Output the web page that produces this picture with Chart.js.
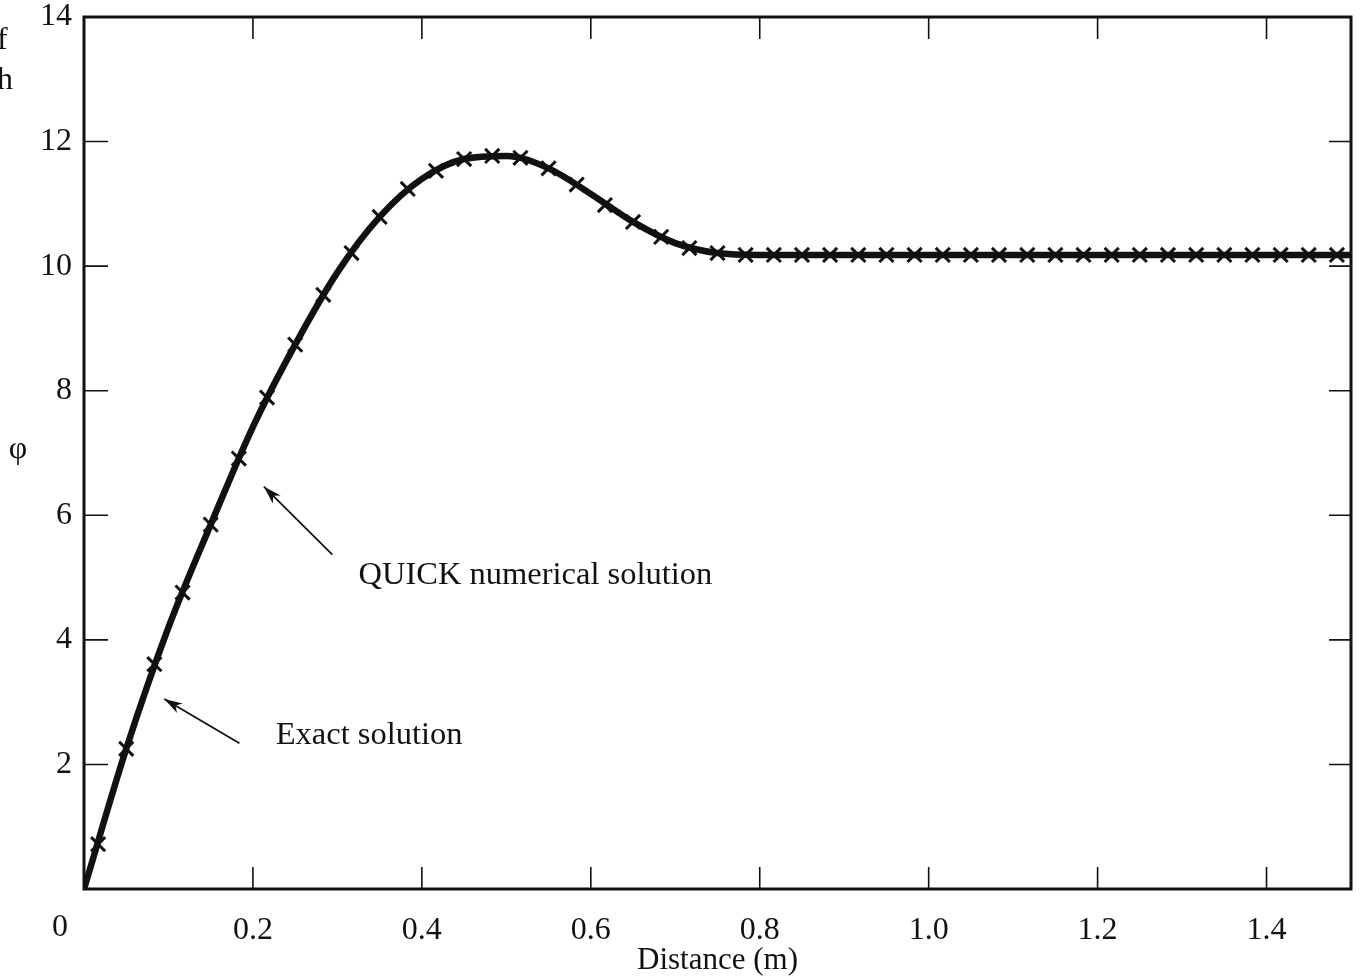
<!DOCTYPE html>
<html>
<head>
<meta charset="utf-8">
<script src="https://cdn.jsdelivr.net/npm/chart.js@4.4.1/dist/chart.umd.min.js"></script>
<style>
  html, body { margin: 0; padding: 0; background: #fff; }
  #wrap { position: relative; width: 1364px; height: 980px; overflow: hidden; }
  .frag { position: absolute; left: -3px; font-family: "Liberation Serif", serif; font-size: 32px; color: #111; }
</style>
</head>
<body>
<div id="wrap">
  <canvas id="phiChart" width="1364" height="980"></canvas>
  <span class="frag" style="top: 20px;">f</span>
  <span class="frag" style="top: 60px;">h</span>
</div>
<script>
// Exact solution
const exactX = [0, 0.05, 0.1, 0.15, 0.2, 0.25, 0.3, 0.35, 0.4, 0.45, 0.5, 0.55, 0.6, 0.65, 0.7, 0.75,
                0.8, 0.85, 0.9, 0.95, 1.0, 1.05, 1.1, 1.15, 1.2, 1.25, 1.3, 1.35, 1.4, 1.45, 1.5];
const exactPhi = [0, 2.25, 4.2, 5.85, 7.42, 8.74, 9.9, 10.79, 11.4, 11.72, 11.77, 11.57, 11.16, 10.71, 10.37, 10.21,
                  10.18, 10.18, 10.18, 10.18, 10.18, 10.18, 10.18, 10.18, 10.18, 10.18, 10.18, 10.18, 10.18, 10.18, 10.18];

// QUICK numerical solution (cell centres, the x markers)
const quickX = [0.0167, 0.05, 0.0833, 0.1167, 0.15, 0.1833, 0.2167, 0.25, 0.2833, 0.3167, 0.35, 0.3833,
                0.4167, 0.45, 0.4833, 0.5167, 0.55, 0.5833, 0.6167, 0.65, 0.6833, 0.7167, 0.75, 0.7833,
                0.8167, 0.85, 0.8833, 0.9167, 0.95, 0.9833, 1.0167, 1.05, 1.0833, 1.1167, 1.15, 1.1833,
                1.2167, 1.25, 1.2833, 1.3167, 1.35, 1.3833, 1.4167, 1.45, 1.4833];
const quickPhi = [0.72, 2.25, 3.61, 4.76, 5.85, 6.91, 7.89, 8.74, 9.54, 10.21, 10.79, 11.24,
                  11.53, 11.72, 11.77, 11.74, 11.57, 11.31, 10.98, 10.71, 10.47, 10.29, 10.21, 10.18,
                  10.18, 10.18, 10.18, 10.18, 10.18, 10.18, 10.18, 10.18, 10.18, 10.18, 10.18, 10.18,
                  10.18, 10.18, 10.18, 10.18, 10.18, 10.18, 10.18, 10.18, 10.18];

// axis ticks
const xTicks = [0, 0.2, 0.4, 0.6, 0.8, 1.0, 1.2, 1.4];
const yTicks = [2, 4, 6, 8, 10, 12, 14];

const serif = '"Liberation Serif", "DejaVu Serif", serif';
const ink = '#111';

// annotation text + arrows, given in data units
const notes = [
    { text: 'QUICK numerical solution', x: 0.325, y: 5.04, from: [0.294, 5.37], to: [0.213, 6.46] },
    { text: 'Exact solution', x: 0.227, y: 2.47, from: [0.184, 2.34], to: [0.095, 3.05] }
];

function pts(xs, ys) {
    return xs.map((x, i) => ({ x: x, y: ys[i] }));
}

// frame, inward ticks, phi label, notes
const decorPlugin = {
    id: 'decor',
    afterDraw(chart) {
        const ctx = chart.ctx;
        const a = chart.chartArea;
        const sx = chart.scales.x, sy = chart.scales.y;
        const tick = 22;
        ctx.save();
        ctx.strokeStyle = ink;
        ctx.lineWidth = 1.6;
        xTicks.forEach(v => {
            if (v === 0) return;
            const px = sx.getPixelForValue(v);
            ctx.beginPath();
            ctx.moveTo(px, a.bottom); ctx.lineTo(px, a.bottom - tick);
            ctx.moveTo(px, a.top); ctx.lineTo(px, a.top + tick);
            ctx.stroke();
        });
        yTicks.forEach(v => {
            if (v === 14) return;
            const py = sy.getPixelForValue(v);
            ctx.beginPath();
            ctx.moveTo(a.left, py); ctx.lineTo(a.left + tick + 2, py);
            ctx.moveTo(a.right, py); ctx.lineTo(a.right - tick, py);
            ctx.stroke();
        });
        ctx.lineWidth = 3;
        ctx.strokeRect(a.left, a.top, a.right - a.left, a.bottom - a.top);

        ctx.fillStyle = ink;
        ctx.font = '32px ' + serif;
        ctx.textAlign = 'center';
        ctx.textBaseline = 'middle';
        ctx.fillText('0', sx.getPixelForValue(0) - 24, 928);
        ctx.fillText('\u03c6', 18, 450);

        ctx.font = '32.5px ' + serif;
        ctx.textAlign = 'left';
        notes.forEach(n => {
            ctx.fillText(n.text, sx.getPixelForValue(n.x), sy.getPixelForValue(n.y));
            const x1 = sx.getPixelForValue(n.from[0]), y1 = sy.getPixelForValue(n.from[1]);
            const x2 = sx.getPixelForValue(n.to[0]), y2 = sy.getPixelForValue(n.to[1]);
            ctx.lineWidth = 1.8;
            ctx.beginPath();
            ctx.moveTo(x1, y1); ctx.lineTo(x2, y2);
            ctx.stroke();
            const ang = Math.atan2(y2 - y1, x2 - x1);
            ctx.beginPath();
            ctx.moveTo(x2, y2);
            ctx.lineTo(x2 - 19 * Math.cos(ang - 0.3), y2 - 19 * Math.sin(ang - 0.3));
            ctx.lineTo(x2 - 13 * Math.cos(ang), y2 - 13 * Math.sin(ang));
            ctx.lineTo(x2 - 19 * Math.cos(ang + 0.3), y2 - 19 * Math.sin(ang + 0.3));
            ctx.closePath();
            ctx.fill();
        });
        ctx.restore();
    }
};

const chart = new Chart(document.getElementById('phiChart').getContext('2d'), {
    type: 'scatter',
    data: {
        datasets: [
            {
                label: 'Exact solution',
                data: pts(exactX, exactPhi),
                showLine: true,
                borderColor: ink,
                borderWidth: 6.5,
                pointRadius: 0,
                cubicInterpolationMode: 'monotone',
                order: 2
            },
            {
                label: 'QUICK numerical solution',
                data: pts(quickX, quickPhi),
                showLine: false,
                pointStyle: 'crossRot',
                pointRadius: 10,
                borderColor: ink,
                borderWidth: 3,
                order: 1
            }
        ]
    },
    options: {
        responsive: false,
        animation: false,
        devicePixelRatio: 1,
        layout: { padding: { top: 17, right: 12, left: 0, bottom: 0 } },
        plugins: {
            legend: { display: false },
            tooltip: { enabled: false }
        },
        scales: {
            x: {
                type: 'linear',
                min: 0,
                max: 1.5,
                grid: { display: false, drawTicks: false, tickLength: 0 },
                border: { display: false },
                ticks: {
                    stepSize: 0.2,
                    includeBounds: false,
                    padding: 22,
                    color: ink,
                    font: { family: serif, size: 32 },
                    maxRotation: 0,
                    autoSkip: false,
                    callback: v => (v === 0 ? '' : v.toFixed(1))
                },
                title: {
                    display: true,
                    text: 'Distance (m)',
                    color: ink,
                    font: { family: serif, size: 31 },
                    padding: { top: 0, bottom: 1 }
                },
                afterFit: s => { s.height = 91; s.paddingLeft = 0; s.paddingRight = 0; }
            },
            y: {
                min: 0,
                max: 14,
                grid: { display: false, drawTicks: false, tickLength: 0 },
                border: { display: false },
                ticks: {
                    stepSize: 2,
                    padding: 12,
                    color: ink,
                    font: { family: serif, size: 32 },
                    callback: v => (v === 0 ? '' : v)
                },
                afterFit: s => { s.width = 84; s.paddingTop = 0; s.paddingBottom = 0; }
            }
        }
    },
    plugins: [decorPlugin]
});
</script>
</body>
</html>
